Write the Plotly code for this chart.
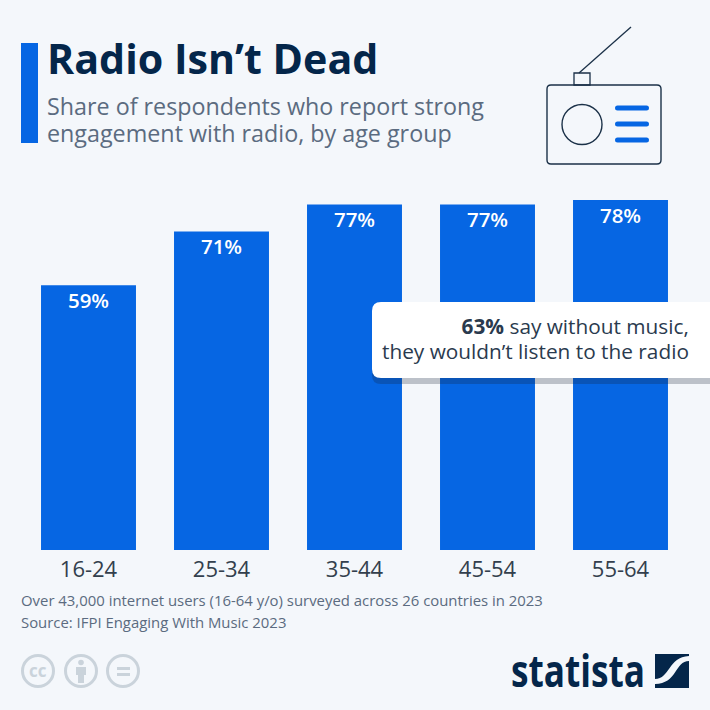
import plotly.graph_objects as go

age_groups = ["16-24", "25-34", "35-44", "45-54", "55-64"]
shares = [59, 71, 77, 77, 78]
value_labels = ["59%", "71%", "77%", "77%", "78%"]

BG = "#f4f7fb"
BLUE = "#0666e3"
NAVY = "#04264a"
GREY = "#5b6b80"
FONT = "Open Sans"
S = 710.0


def X(p):
    return p / S


def Y(p):
    return 1 - p / S


def path_px(points, close=True):
    d = "M " + " L ".join(f"{X(a):.5f},{Y(b):.5f}" for a, b in points)
    return d + (" Z" if close else "")


def rrect(x0, y0, x1, y1, r):
    return (
        f"M {X(x0 + r):.5f},{Y(y0):.5f} L {X(x1 - r):.5f},{Y(y0):.5f} "
        f"Q {X(x1):.5f},{Y(y0):.5f} {X(x1):.5f},{Y(y0 + r):.5f} "
        f"L {X(x1):.5f},{Y(y1 - r):.5f} Q {X(x1):.5f},{Y(y1):.5f} {X(x1 - r):.5f},{Y(y1):.5f} "
        f"L {X(x0 + r):.5f},{Y(y1):.5f} Q {X(x0):.5f},{Y(y1):.5f} {X(x0):.5f},{Y(y1 - r):.5f} "
        f"L {X(x0):.5f},{Y(y0 + r):.5f} Q {X(x0):.5f},{Y(y0):.5f} {X(x0 + r):.5f},{Y(y0):.5f} Z"
    )


fig = go.Figure(
    go.Bar(
        x=age_groups,
        y=shares,
        text=value_labels,
        marker=dict(color=BLUE, line=dict(width=0)),
        textposition="inside",
        insidetextanchor="end",
        textangle=0,
        textfont=dict(family=FONT, size=20.5, color="white", weight=600),
        hoverinfo="skip",
    )
)

shapes = []


def rect(x0, y0, x1, y1, fill=None, line=None, lw=0):
    shapes.append(dict(type="rect", xref="paper", yref="paper", x0=X(x0), x1=X(x1), y0=Y(y0), y1=Y(y1),
                       fillcolor=fill or "rgba(0,0,0,0)", line=dict(color=line or "rgba(0,0,0,0)", width=lw), layer="above"))


def path(d, fill=None, line=None, lw=0):
    shapes.append(dict(type="path", xref="paper", yref="paper", path=d,
                       fillcolor=fill or "rgba(0,0,0,0)", line=dict(color=line or "rgba(0,0,0,0)", width=lw), layer="above"))


def circle(cx, cy, r, fill=None, line=None, lw=0):
    shapes.append(dict(type="circle", xref="paper", yref="paper", x0=X(cx - r), x1=X(cx + r), y0=Y(cy + r), y1=Y(cy - r),
                       fillcolor=fill or "rgba(0,0,0,0)", line=dict(color=line or "rgba(0,0,0,0)", width=lw), layer="above"))


# Title accent bar
rect(21, 43, 38, 143, fill=BLUE)

# Radio icon
ICON = "#1b3148"
path(path_px([(579, 73), (631, 27)], close=False), line=ICON, lw=1.3)
rect(574, 73, 590, 85, line=ICON, lw=1.3)
path(rrect(547, 85, 661, 164, 4), line=ICON, lw=1.4)
circle(582, 124.5, 20, line=ICON, lw=1.4)
for yy in (108, 124, 140):
    path(rrect(615, yy - 2.5, 649, yy + 2.5, 2.5), fill=BLUE)

# Callout
path(rrect(372, 307, 722, 384, 9), fill="rgba(20,30,50,0.25)")
path(rrect(372, 302, 722, 378, 9), fill="white")

# Licence icons
CC = "#cad3db"
circle(38, 671, 15.5, line=CC, lw=3)
circle(81, 671, 15.5, line=CC, lw=3)
circle(123, 671, 15.5, line=CC, lw=3)
circle(81, 662.5, 2.8, fill=CC)
path(path_px([(76, 667), (86, 667), (86, 675), (84, 675), (84, 683), (78, 683), (78, 675), (76, 675)]), fill=CC)
rect(117, 667, 130, 670, fill=CC)
rect(117, 673, 130, 676, fill=CC)

# Statista mark
path(path_px([(655, 654), (689, 654), (689, 688), (655, 688)]), fill=NAVY)
path(
    f"M {X(655):.5f},{Y(679):.5f} C {X(670):.5f},{Y(679):.5f} {X(668):.5f},{Y(657):.5f} {X(689):.5f},{Y(656):.5f} "
    f"L {X(689):.5f},{Y(661):.5f} C {X(675):.5f},{Y(661):.5f} {X(677):.5f},{Y(684):.5f} {X(655):.5f},{Y(684):.5f} Z",
    fill=BG,
)


def note(x, y, text, size, color, anchor="left", weight=None, family=FONT):
    fig.add_annotation(xref="paper", yref="paper", x=X(x), y=Y(y), text=text, showarrow=False,
                       xanchor=anchor, yanchor="middle", align=anchor, borderpad=0, borderwidth=0,
                       font=dict(family=family, size=size, color=color, weight=weight))


note(47, 58, "Radio Isn’t Dead", 41.2, NAVY, weight=700)
note(47, 121, "Share of respondents who report strong<br>engagement with radio, by age group", 23.3, GREY)
note(689, 339, "<b>63%</b> say without music,<br>they wouldn’t listen to the radio", 20.8, "#2a3a4e", anchor="right")
note(21, 609, "Over 43,000 internet users (16-64 y/o) surveyed across 26 countries in 2023<br>Source: IFPI Engaging With Music 2023", 14.9, GREY)
note(38, 670, "<b>cc</b>", 17, CC, anchor="center")
note(511, 670, "statista", 44, NAVY, weight=700)

fig.update_layout(
    width=710,
    height=710,
    autosize=False,
    margin=dict(l=0, r=0, t=0, b=0),
    paper_bgcolor=BG,
    plot_bgcolor=BG,
    showlegend=False,
    bargap=0.286,
    shapes=shapes,
    xaxis=dict(domain=[X(22), X(687)], showgrid=False, showline=False, zeroline=False, ticks="outside",
               ticklen=0, tickcolor="rgba(0,0,0,0)", tickfont=dict(family=FONT, size=22, color="#333f4d")),
    yaxis=dict(domain=[Y(550), Y(190)], range=[0, 360 / (350 / 78)], visible=False),
)

post = """
document.body.style.margin='0';
document.body.style.background='#f4f7fb';
document.querySelectorAll('.annotation-text').forEach(function(t){
  var s=t.textContent;
  if(s==='statista'){
    t.setAttribute('textLength','134');
    t.setAttribute('lengthAdjust','spacingAndGlyphs');
  }
  var lines=t.querySelectorAll('tspan.line');
  if(lines.length===2){
    var gap = s.indexOf('Share')===0 ? 27 : (s.indexOf('63%')===0 ? 25 : 22);
    var y0=parseFloat(lines[0].getAttribute('y'));
    lines[1].setAttribute('y', y0+gap);
    lines[1].removeAttribute('dy');
  }
});
document.querySelectorAll('.bartext').forEach(function(t){
  t.setAttribute('transform','translate(0,-2) '+(t.getAttribute('transform')||''));
});
"""
fig.write_html("out.html", config={"displayModeBar": False}, post_script=post)
